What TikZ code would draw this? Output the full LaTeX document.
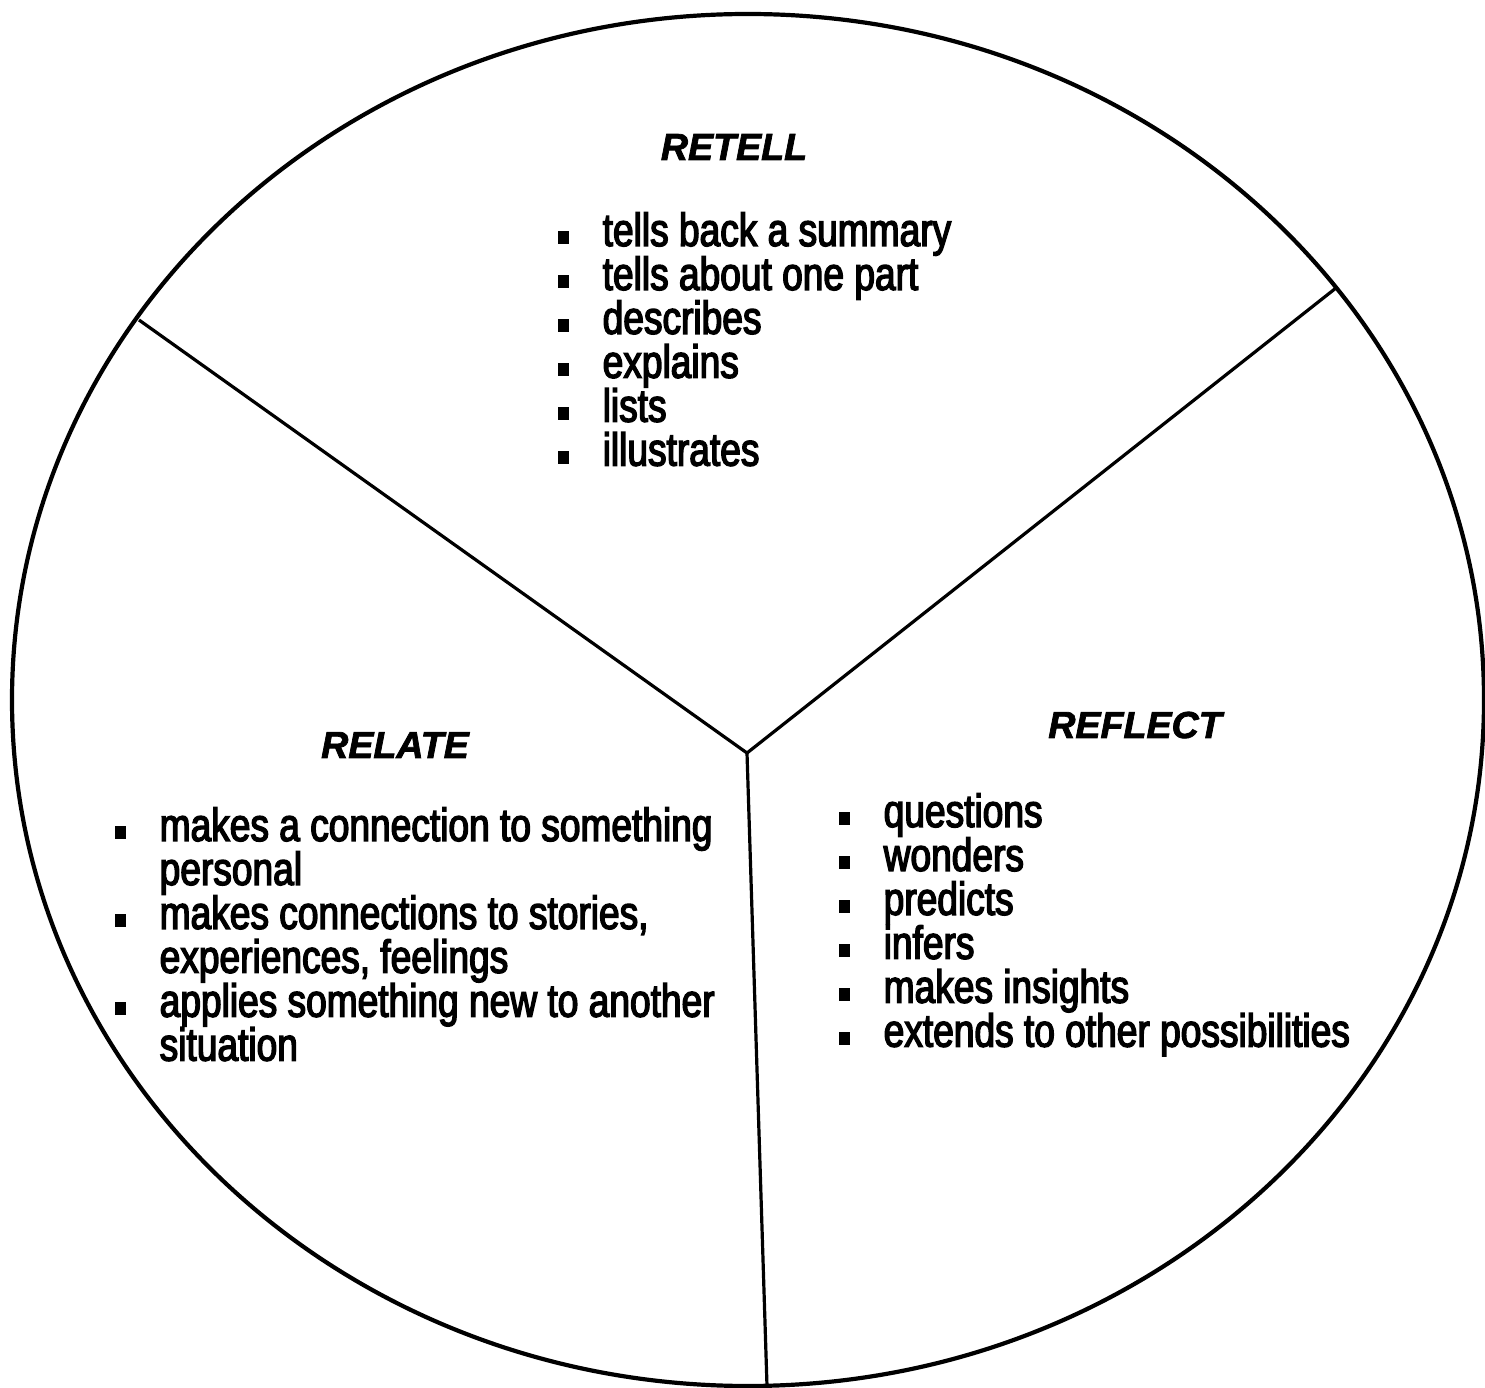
\documentclass[tikz,border=0pt]{standalone}
\usepackage{fontspec}
\setmainfont{Liberation Sans}
\newfontfamily\listfont{Liberation Sans}[FakeStretch=0.8, FakeBold=3]
\newfontfamily\headfont{Liberation Sans}[FakeBold=2]
\usetikzlibrary{positioning}
% bullet and list lines
\newcommand{\blt}{\rule[0.2mm]{1.15mm}{1.3mm}}
\newcommand{\itm}[1]{\hbox{\makebox[4.5mm][l]{\blt}#1}}
\newcommand{\cnt}[1]{\hbox{\hspace*{4.5mm}#1}}
\newcommand{\itemstack}[1]{\vtop{\lineskiplimit=-10pt #1}}
\tikzstyle{heading} = [font=\headfont\fontsize{10.7}{12}\selectfont\bfseries\itshape, inner sep=0pt, anchor=base]
\tikzstyle{itemlist} = [font=\listfont\fontsize{13.2}{12.5}\selectfont, inner sep=0pt, anchor=base west]
\tikzstyle{rim} = [line width=0.42mm]
\tikzstyle{spoke} = [line width=0.32mm]

\begin{document}
\begin{tikzpicture}[x=0.1mm, y=-0.1mm]
      \useasboundingbox (0,0) rectangle (1485,1388);

      % wheel and its three spokes
      \draw [rim] (748,700) ellipse [x radius=736, y radius=686];
      \coordinate (hub) at (747,753);
      \coordinate (nw)  at (139,320);
      \coordinate (ne)  at (1336,288);
      \coordinate (s)   at (767,1386);
      \draw [spoke] (hub) -- (nw);
      \draw [spoke] (hub) -- (ne);
      \draw [spoke] (hub) -- (s);

      % retell
      \node (retell) [heading] at (734,160) {RETELL};
      \node (retellitems) [itemlist] at (557,246) {\itemstack{%
            \itm{tells back a summary}
            \itm{tells about one part}
            \itm{describes}
            \itm{explains}
            \itm{lists}
            \itm{illustrates}}};

      % relate
      \node (relate) [heading] at (395,758) {RELATE};
      \node (relateitems) [itemlist] at (114,841) {\itemstack{%
            \itm{makes a connection to something}
            \cnt{personal}
            \itm{makes connections to stories,}
            \cnt{experiences, feelings}
            \itm{applies something new to another}
            \cnt{situation}}};

      % reflect
      \node (reflect) [heading] at (1135,738) {REFLECT};
      \node (reflectitems) [itemlist] at (838,827) {\itemstack{%
            \itm{questions}
            \itm{wonders}
            \itm{predicts}
            \itm{infers}
            \itm{makes insights}
            \itm{extends to other possibilities}}};
\end{tikzpicture}
\end{document}
